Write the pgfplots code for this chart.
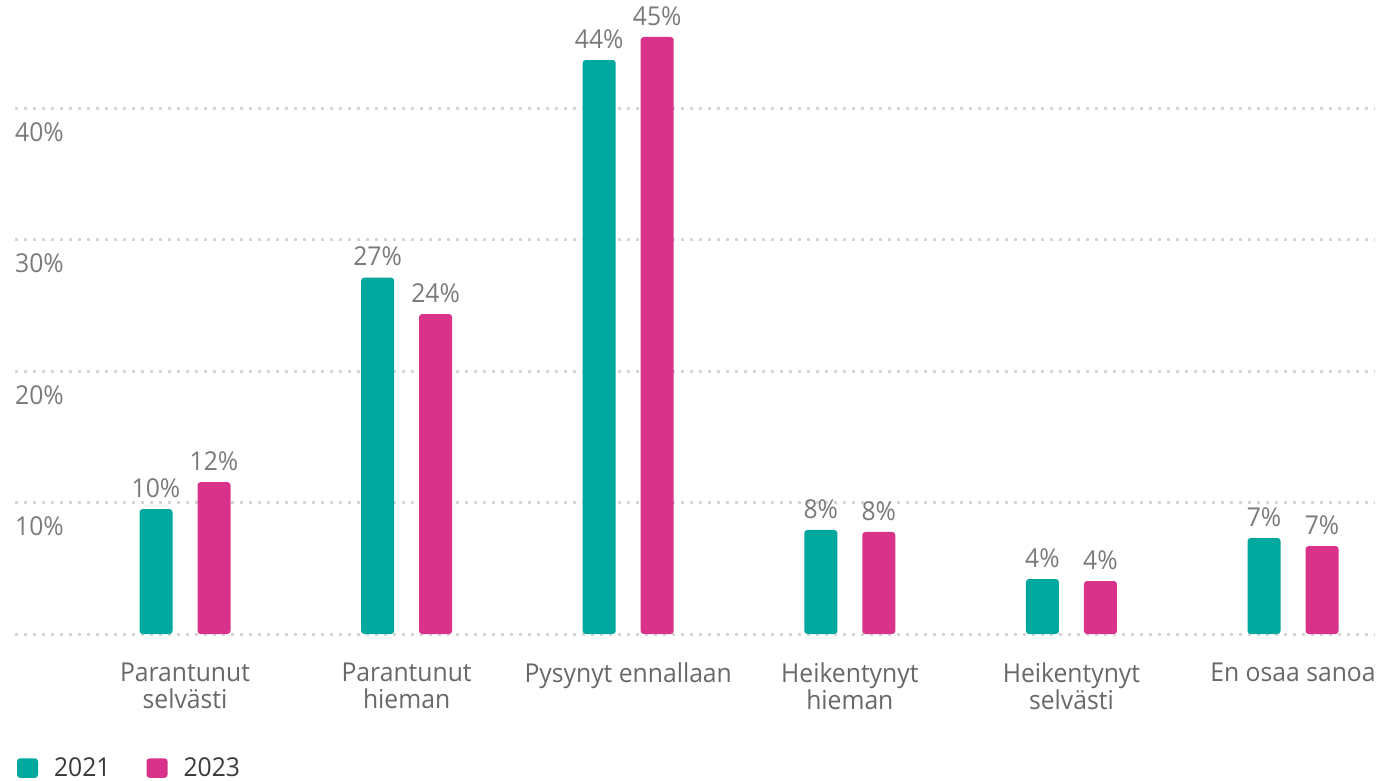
\documentclass[border=0pt]{standalone}
\usepackage{pgfplots}
\usepackage{pgfplotstable}
\pgfplotsset{compat=1.18}
\usepackage{fontspec}
\setmainfont{Open Sans}[FakeStretch=0.95]
\definecolor{cteal}{HTML}{00A89E}
\definecolor{cpink}{HTML}{D8328A}
\definecolor{cgrid}{HTML}{D6D6D6}
\definecolor{cnum}{HTML}{7A7A7A}
\definecolor{ccat}{HTML}{686868}
\definecolor{cleg}{HTML}{3A3A3A}

\pgfplotstableread{
x y lab
0 9.50 10
1 27.10 27
2 43.65 44
3 7.91 8
4 4.18 4
5 7.30 7
}\dataA
\pgfplotstableread{
x y lab
0 11.55 12
1 24.33 24
2 45.40 45
3 7.76 8
4 4.03 4
5 6.69 7
}\dataB

\begin{document}
\begin{tikzpicture}[x=1pt,y=1pt]
\path[use as bounding box] (0,0) rectangle (1379,-781);
\begin{axis}[
  at={(15pt,-634pt)}, anchor=south west,
  scale only axis,
  width=1360pt, height=631.2pt,
  xmin=-0.7672, xmax=5.370,
  ymin=0, ymax=48,
  axis line style={draw=none},
  tick style={draw=none},
  major tick length=0pt,
  ymajorgrids,
  major grid style={color=cgrid, line width=3pt, dash pattern=on 3pt off 6pt},
  ytick={0,10,20,30,40},
  yticklabels={,10\%,20\%,30\%,40\%},
  yticklabel style={anchor=north west, inner sep=0pt, font=\fontsize{26}{28}\selectfont, text=cnum, yshift=-14pt},
  xtick={0,1,2,3,4,5},
  xticklabels={Parantunut\\selvästi, Parantunut\\hieman, Pysynyt ennallaan, Heikentynyt\\hieman, Heikentynyt\\selvästi, En osaa sanoa},
  xticklabel style={anchor=north, inner sep=0pt, align=center, font=\fontsize{26}{27.5}\selectfont, text=ccat, yshift=-28.5pt},
  ybar,
  bar width=33pt,
  point meta=explicit symbolic,
  nodes near coords={\pgfplotspointmeta\%},
  every node near coord/.append style={anchor=south, inner sep=0pt, yshift=11.5pt, font=\fontsize{26}{28}\selectfont, text=cnum},
  legend style={at={(0.0015,-0.2281)}, anchor=south west, draw=none, fill=none, inner sep=0pt, outer sep=0pt,
    legend columns=2, nodes={inner sep=0pt, font=\fontsize{26}{28}\selectfont, text=cleg},
    /tikz/every even column/.append style={column sep=36pt}},
  legend cell align=left,
]
\addplot[fill=cteal, draw=none, rounded corners=3pt, bar shift=-29pt,
  legend image code/.code={\fill[cteal, rounded corners=3pt] (0pt,-10pt) rectangle (21pt,9.5pt); \path (37pt,0pt);}]
  table[x=x, y=y, meta=lab] {\dataA};
\addlegendentry{2021}
\addplot[fill=cpink, draw=none, rounded corners=3pt, bar shift=29pt,
  legend image code/.code={\fill[cpink, rounded corners=3pt] (0pt,-10pt) rectangle (21pt,9.5pt); \path (37pt,0pt);}]
  table[x=x, y=y, meta=lab] {\dataB};
\addlegendentry{2023}
\end{axis}
\end{tikzpicture}
\end{document}
